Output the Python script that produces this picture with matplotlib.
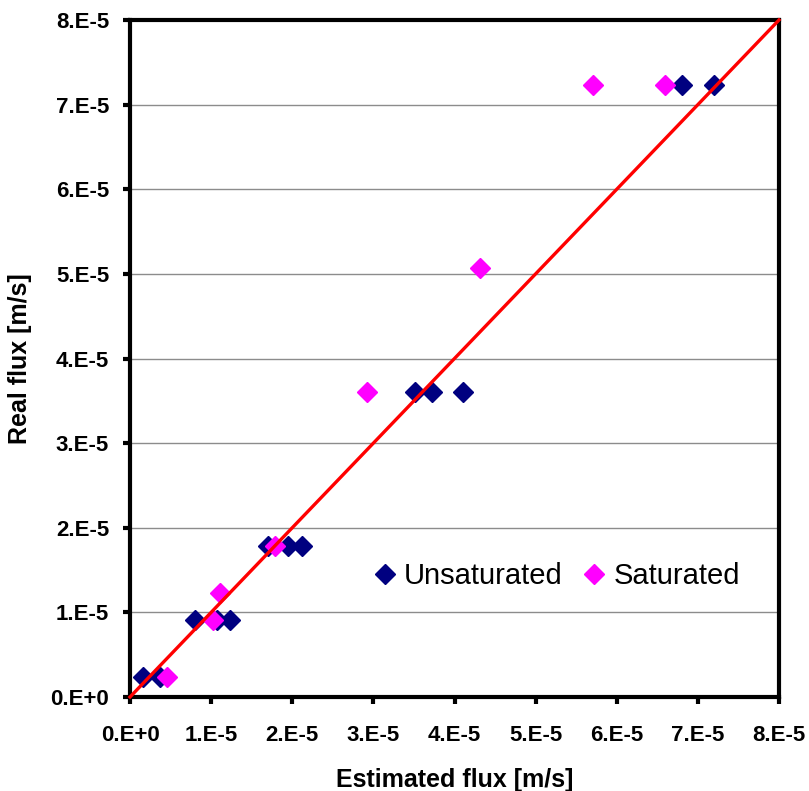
import matplotlib
matplotlib.use("Agg")
import matplotlib.pyplot as plt

# Estimated vs. real flux [m/s]
unsat_est = [0.16e-5, 0.37e-5, 0.80e-5, 1.07e-5, 1.23e-5, 1.70e-5, 1.95e-5, 2.12e-5,
             3.51e-5, 3.72e-5, 4.10e-5, 6.81e-5, 7.20e-5]
unsat_real = [0.236e-5, 0.236e-5, 0.91e-5, 0.91e-5, 0.91e-5, 1.785e-5, 1.785e-5, 1.785e-5,
              3.605e-5, 3.605e-5, 3.605e-5, 7.23e-5, 7.23e-5]

sat_est = [0.45e-5, 1.02e-5, 1.11e-5, 1.79e-5, 2.92e-5, 4.32e-5, 5.71e-5, 6.60e-5]
sat_real = [0.236e-5, 0.91e-5, 1.23e-5, 1.785e-5, 3.605e-5, 5.07e-5, 7.23e-5, 7.23e-5]

line_x = [0, 8e-5]
line_y = [0, 8e-5]

tick_vals = [i * 1e-5 for i in range(9)]
tick_labels = ["0.E+0", "1.E-5", "2.E-5", "3.E-5", "4.E-5", "5.E-5", "6.E-5", "7.E-5", "8.E-5"]

plt.rcParams['font.family'] = ['Liberation Sans', 'DejaVu Sans']

W, H = 809, 791
fig = plt.figure(figsize=(W / 100, H / 100), dpi=100)
ax = fig.add_axes([130 / W, 1 - 697 / H, (779 - 130) / W, (697 - 20) / H])

ax.set_xlim(0, 8e-5)
ax.set_ylim(0, 8e-5)

ax.yaxis.grid(True, color='#8c8c8c', linewidth=1.0)
ax.set_axisbelow(True)

ax.plot(unsat_est, unsat_real, linestyle='none', marker='D', markersize=10,
        color='#000080', label='Unsaturated', zorder=3)
ax.plot(sat_est, sat_real, linestyle='none', marker='D', markersize=10,
        color='#ff00ff', label='Saturated', zorder=3)
ax.plot(line_x, line_y, color='#ff0000', linewidth=2.4, zorder=4, clip_on=False)

ax.set_xticks(tick_vals)
ax.set_xticklabels(tick_labels)
ax.set_yticks(tick_vals)
ax.set_yticklabels(tick_labels)

for sp in ax.spines.values():
    sp.set_linewidth(3.0)
    sp.set_color('black')

ax.tick_params(axis='both', direction='out', length=5, width=3.0, color='black',
               labelsize=16)
ax.tick_params(axis='x', pad=15)
ax.tick_params(axis='y', pad=10)
for lbl in ax.get_xticklabels() + ax.get_yticklabels():
    lbl.set_fontweight('bold')

ax.set_xlabel("Estimated flux [m/s]", fontsize=18, fontweight='bold', labelpad=16)
ax.set_ylabel("Real flux [m/s]", fontsize=18, fontweight='bold', labelpad=13)

leg = ax.legend(loc='center left', bbox_to_anchor=(0.352, 0.178), ncol=2, frameon=False,
                fontsize=21, handletextpad=0.15, columnspacing=0.6, markerscale=1.0,
                handlelength=1.0, borderaxespad=0)

fig.savefig("out.png", dpi=100)
